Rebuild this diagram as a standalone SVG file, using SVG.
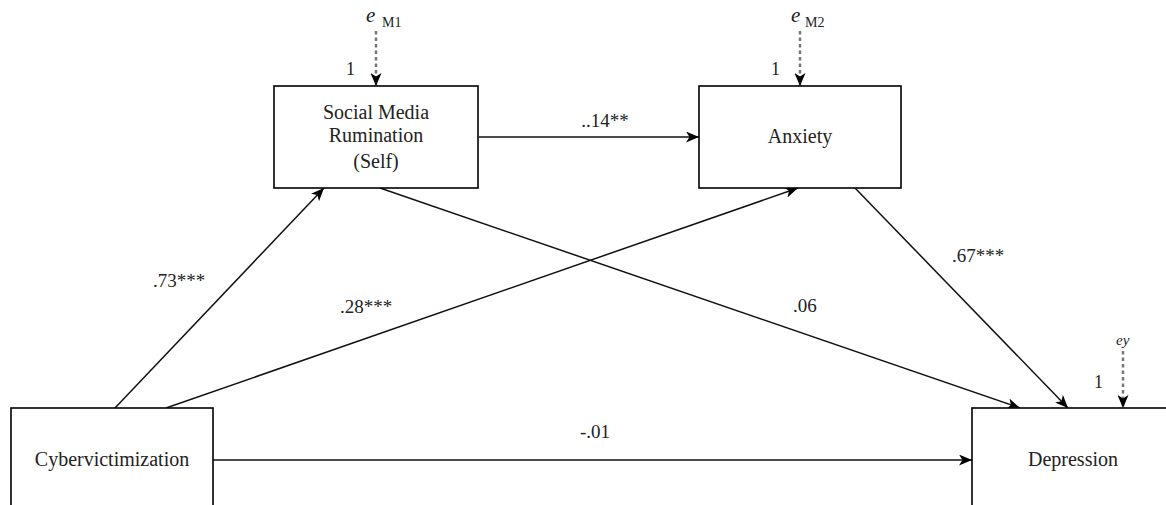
<svg xmlns="http://www.w3.org/2000/svg" width="1166" height="505" viewBox="0 0 1166 505">
<defs>
<style>
.box{fill:#fff;stroke:#000;stroke-width:1.6}
.t{font-family:"Liberation Serif","Times New Roman",serif;font-size:20px;fill:#222;text-anchor:middle}
.lbl{font-family:"Liberation Serif","Times New Roman",serif;font-size:19px;fill:#222}
.one{font-family:"Liberation Serif","Times New Roman",serif;font-size:18px;fill:#222}
.e{font-family:"Liberation Serif","Times New Roman",serif;font-style:italic;font-size:21px;fill:#222}
.sub{font-family:"Liberation Serif","Times New Roman",serif;font-size:14px;fill:#222}
.c{fill:none;stroke:#111;stroke-width:1.5}
.d{fill:none;stroke:#777;stroke-width:2.5;stroke-dasharray:3.5 3}
</style>
<marker id="ah" viewBox="0 0 13 11" refX="13" refY="5.5" markerWidth="13" markerHeight="11" markerUnits="userSpaceOnUse" orient="auto">
<path d="M0,0 L13,5.5 L0,11 L3.5,5.5 Z" fill="#000"/>
</marker>
</defs>
<rect width="1166" height="505" fill="#fff"/>
<g id="connectors">
<line class="c" x1="479" y1="137" x2="699" y2="137" marker-end="url(#ah)"/>
<line class="c" x1="115" y1="408" x2="324" y2="188" marker-end="url(#ah)"/>
<line class="c" x1="166" y1="408" x2="798" y2="188" marker-end="url(#ah)"/>
<line class="c" x1="380" y1="188" x2="1020" y2="408" marker-end="url(#ah)"/>
<line class="c" x1="855" y1="188" x2="1068" y2="408" marker-end="url(#ah)"/>
<line class="c" x1="213" y1="460" x2="972" y2="460" marker-end="url(#ah)"/>
<line class="d" x1="376" y1="31" x2="376" y2="86" marker-end="url(#ah)"/>
<line class="d" x1="800" y1="31" x2="800" y2="86" marker-end="url(#ah)"/>
<line class="d" x1="1123" y1="351" x2="1123" y2="408" marker-end="url(#ah)"/>
<text class="lbl" x="605" y="127" text-anchor="middle">..14**</text>
<text class="lbl" x="153" y="287">.73***</text>
<text class="lbl" x="340" y="313">.28***</text>
<text class="lbl" x="952" y="262">.67***</text>
<text class="lbl" x="793" y="312">.06</text>
<text class="lbl" x="595" y="438" text-anchor="middle">-.01</text>
</g>
<g id="error-m1">
<text class="e" x="366" y="22">e</text>
<text class="sub" x="382" y="27">M1</text>
<text class="one" x="346" y="75">1</text>
</g>
<g id="error-m2">
<text class="e" x="791" y="22">e</text>
<text class="sub" x="805" y="27">M2</text>
<text class="one" x="771" y="75">1</text>
</g>
<g id="error-y">
<text class="e" x="1116" y="345" style="font-size:15px">ey</text>
<text class="one" x="1094" y="388">1</text>
</g>
<g id="node-smr">
<rect class="box" x="274" y="86" width="204" height="102"/>
<text class="t" x="376" y="119">Social Media</text>
<text class="t" x="376" y="142">Rumination</text>
<text class="t" x="376" y="168">(Self)</text>
</g>
<g id="node-anxiety">
<rect class="box" x="699" y="86" width="202" height="102"/>
<text class="t" x="800" y="143">Anxiety</text>
</g>
<g id="node-cyber">
<rect class="box" x="11" y="408" width="202" height="110"/>
<text class="t" x="112" y="466">Cybervictimization</text>
</g>
<g id="node-depression">
<rect class="box" x="972" y="408" width="210" height="110"/>
<text class="t" x="1073" y="466">Depression</text>
</g>
</svg>
